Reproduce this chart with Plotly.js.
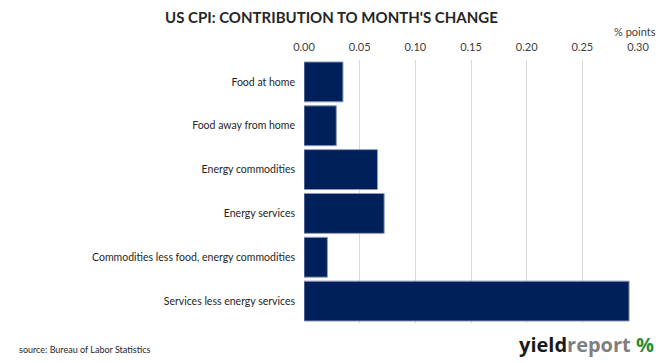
<!DOCTYPE html>
<html>
<head>
<meta charset="utf-8">
<script src="https://cdn.plot.ly/plotly-3.0.1.min.js"></script>
<style>
html,body{margin:0;padding:0;background:#fff;}
#chart{width:662px;height:363px;}
</style>
</head>
<body>
<div id="chart"></div>
<script>
const categories = [
  "Food at home",
  "Food away from home",
  "Energy commodities",
  "Energy services",
  "Commodities less food, energy commodities",
  "Services less energy services"
];
const contributions = [0.035, 0.029, 0.066, 0.072, 0.021, 0.292];
const tickValues = [0, 0.05, 0.10, 0.15, 0.20, 0.25, 0.30];
const tickLabels = ["0.00", "0.05", "0.10", "0.15", "0.20", "0.25", "0.30"];

const font = "Lato, 'Open Sans', sans-serif";

const trace = {
  type: "bar",
  orientation: "h",
  y: categories,
  x: contributions,
  marker: {color: "#00205B", line: {color: "#8d9ab8", width: 1}},
  hoverinfo: "x+y"
};

const layout = {
  width: 662,
  height: 363,
  margin: {l: 304, r: 24, t: 60, b: 40},
  paper_bgcolor: "#ffffff",
  plot_bgcolor: "#ffffff",
  showlegend: false,
  bargap: 0.09,
  font: {family: font, size: 11, color: "#404040"},
  xaxis: {
    side: "top",
    range: [0, 0.30],
    tickvals: tickValues,
    ticktext: tickLabels,
    showgrid: true,
    gridcolor: "#d9d9d9",
    gridwidth: 1,
    zeroline: false,
    showline: false,
    ticks: "",
    ticklabelstandoff: 6,
    tickfont: {family: font, size: 11, color: "#404040"},
    fixedrange: true
  },
  yaxis: {
    autorange: "reversed",
    showgrid: false,
    zeroline: false,
    showline: false,
    ticks: "",
    ticklabelstandoff: 8,
    tickfont: {family: font, size: 10.5, color: "#262626"},
    fixedrange: true
  },
  annotations: [
    {
      text: "<b>US CPI: CONTRIBUTION TO MONTH'S CHANGE</b>",
      xref: "paper", yref: "paper", x: 0.5, y: 1, xanchor: "center", yanchor: "middle",
      xref: "paper", showarrow: false,
      font: {family: font, size: 15, color: "#262626"}
    },
    {
      text: "% points",
      xref: "paper", yref: "paper", x: 1, y: 1, xanchor: "center", yanchor: "middle",
      showarrow: false, font: {family: font, size: 11, color: "#404040"}
    },
    {
      text: "source: Bureau of Labor Statistics",
      xref: "paper", yref: "paper", x: 0, y: 0, xanchor: "left", yanchor: "middle",
      showarrow: false, font: {family: font, size: 9, color: "#262626"}
    },
    {
      text: "<b>yield</b><b><span style='color:#7f7f7f'>report</span></b> <b><span style='color:#2e8b3a'>%</span></b>",
      xref: "paper", yref: "paper", x: 1, y: 0, xanchor: "right", yanchor: "middle",
      showarrow: false, font: {family: "'Open Sans', sans-serif", size: 20, color: "#1a1a1a"}
    }
  ]
};

// place annotations in pixel terms via paper coords
(function(){
  const pw = 662 - 304 - 24, ph = 363 - 60 - 40;
  const px = x => (x - 304) / pw;
  const py = y => (363 - 40 - y) / ph;
  const a = layout.annotations;
  a[0].x = px(331); a[0].y = py(17);
  a[1].x = px(635); a[1].y = py(31);
  a[2].x = px(17);  a[2].y = py(349);
  a[3].x = px(656); a[3].y = py(344);
})();

Plotly.newPlot("chart", [trace], layout, {displayModeBar: false, staticPlot: true});
</script>
</body>
</html>
